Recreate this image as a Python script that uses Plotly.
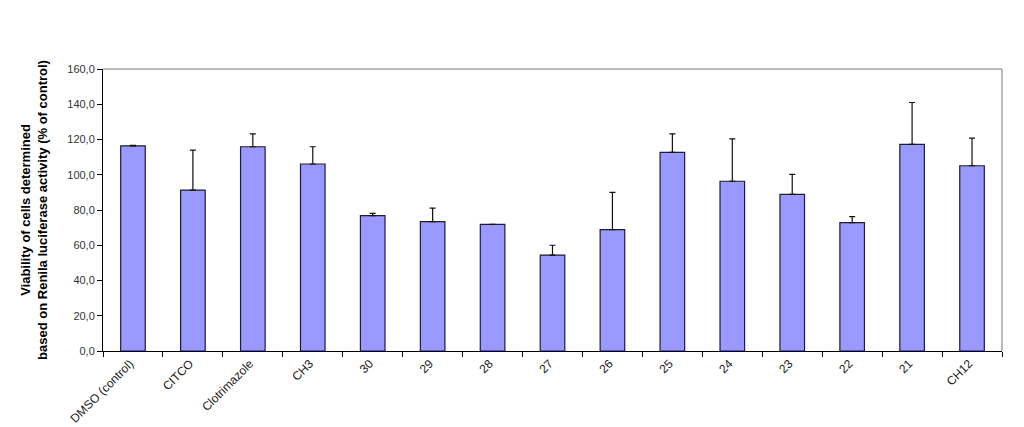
import plotly.graph_objects as go

categories = ["DMSO (control)", "CITCO", "Clotrimazole", "CH3", "30", "29", "28",
              "27", "26", "25", "24", "23", "22", "21", "CH12"]
viability = [116.4, 91.3, 115.9, 106.1, 76.8, 73.4, 71.9, 54.4, 68.9, 112.7,
             96.3, 88.9, 72.8, 117.2, 105.1]
error_plus = [0.3, 22.7, 7.3, 9.8, 1.3, 7.7, 0.0, 5.6, 21.1, 10.5,
              24.1, 11.3, 3.4, 23.8, 15.7]
y_ticks = [0, 20, 40, 60, 80, 100, 120, 140, 160]
y_tick_labels = ["0,0", "20,0", "40,0", "60,0", "80,0", "100,0", "120,0", "140,0", "160,0"]

FONT = "Arial, Liberation Sans, sans-serif"
n = len(categories)

fig = go.Figure()
fig.add_trace(go.Bar(
    x=categories,
    y=viability,
    width=0.41,
    marker=dict(color="#9999FF", line=dict(color="#1a1a4d", width=1.2)),
    error_y=dict(type="data", array=error_plus, arrayminus=[0] * n,
                 symmetric=False, color="#111111", thickness=1.2, width=3),
))

fig.update_layout(
    width=1024, height=427,
    margin=dict(l=95, r=30, t=61, b=84),
    paper_bgcolor="white", plot_bgcolor="white",
    showlegend=False,
    font=dict(family=FONT, size=12, color="#222222"),
    xaxis=dict(
        type="category",
        tickangle=-45,
        automargin=False,
        ticks="outside", ticklen=5, tickcolor="black",
        tickson="boundaries",
        ticklabelshift=-3,
        showline=True, linecolor="black", linewidth=1,
        showgrid=False,
        tickfont=dict(family=FONT, size=12, color="#222222"),
        range=[-0.5, n - 0.5],
    ),
    yaxis=dict(
        range=[0, 160],
        automargin=False,
        tickvals=y_ticks, ticktext=y_tick_labels,
        ticks="outside", ticklen=5, tickcolor="black",
        showline=True, linecolor="black", linewidth=1,
        showgrid=False, zeroline=False,
        tickfont=dict(family=FONT, size=11, color="#333333"),
        title=dict(
            text="Viability of cells determined<br>based on Renila luciferase activity (% of control)",
            font=dict(family=FONT, size=13, color="black", weight="bold"),
            standoff=16,
        ),
    ),
    shapes=[
        dict(type="line", xref="paper", yref="paper", x0=0, x1=1, y0=1, y1=1,
             line=dict(color="#a6a6a6", width=1.5)),
        dict(type="line", xref="paper", yref="paper", x0=1, x1=1, y0=0, y1=1,
             line=dict(color="#a6a6a6", width=1.5)),
    ],
)

fig.write_html("out.html")
